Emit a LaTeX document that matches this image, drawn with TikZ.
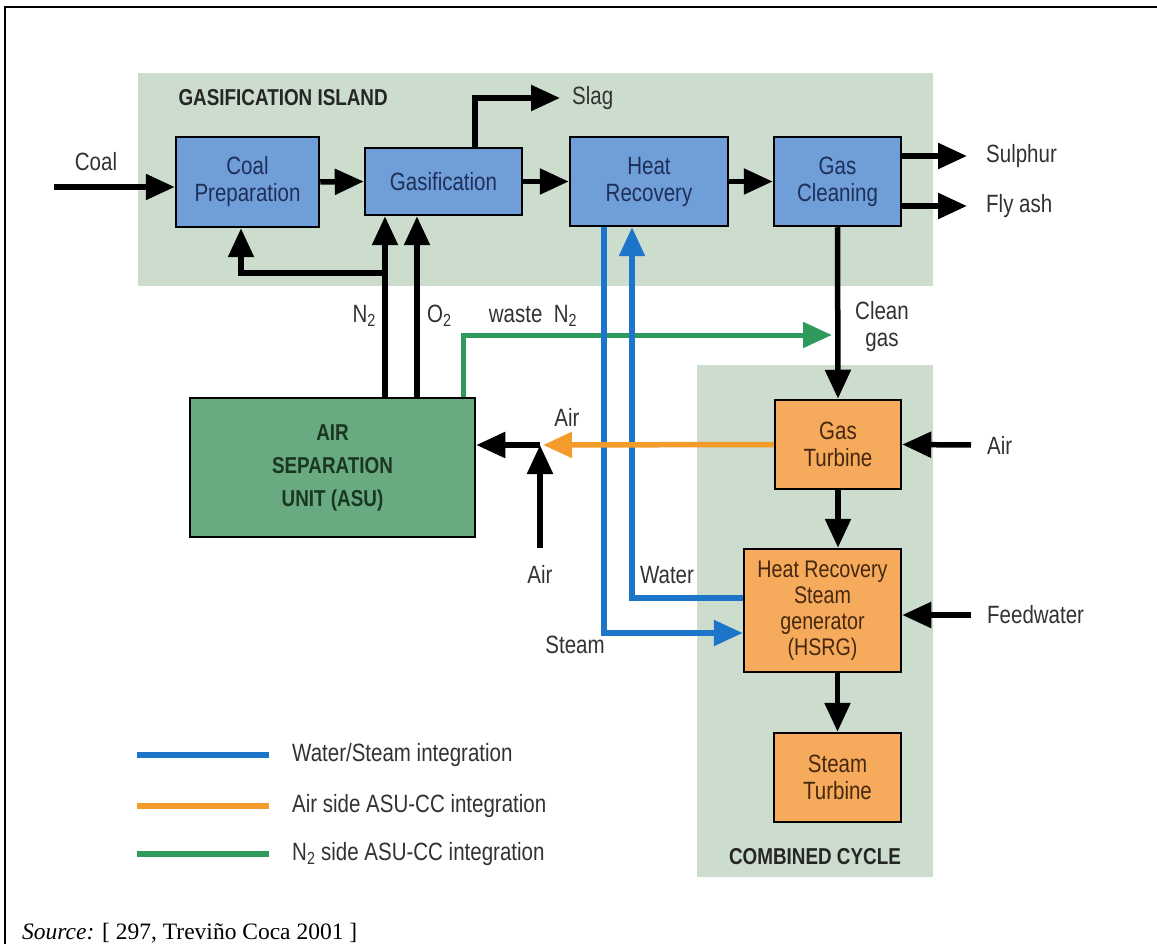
\documentclass[tikz,border=0pt]{standalone}
\usepackage{fontspec}
\setmainfont{Liberation Sans}[FakeStretch=0.82]
\newfontfamily\srcfont{Liberation Serif}
\usepackage{tikz}
\usetikzlibrary{
arrows.meta,
positioning,
calc
}
\definecolor{islandgreen}{RGB}{204,220,205}
\definecolor{unitblue}{RGB}{112,158,216}
\definecolor{unitorange}{RGB}{246,170,92}
\definecolor{unitgreen}{RGB}{106,170,128}
\definecolor{flowblue}{RGB}{28,117,200}
\definecolor{floworange}{RGB}{243,156,44}
\definecolor{flowgreen}{RGB}{46,155,92}
\definecolor{labelgray}{RGB}{50,50,50}
\definecolor{navytext}{RGB}{30,48,90}
\definecolor{browntext}{RGB}{70,40,15}
\definecolor{darkgreentext}{RGB}{25,55,35}
\tikzset{
  unitbox/.style={draw=black, line width=2.5pt, align=center, inner sep=0pt,
    font=\fontsize{25}{27}\selectfont},
  bluebox/.style={unitbox, fill=unitblue, text=navytext},
  orangebox/.style={unitbox, fill=unitorange, text=browntext},
  asubox/.style={unitbox, fill=unitgreen, text=darkgreentext, font=\bfseries\fontsize{23}{33}\selectfont},
  heading/.style={font=\bfseries\fontsize{23}{24}\selectfont, text=black!85},
  lbl/.style={font=\fontsize{25}{27}\selectfont, text=labelgray, inner sep=0pt, align=center},
  flow/.style={line width=5.5pt, -{Triangle[length=29pt,width=25pt]}},
  blueflow/.style={flow, draw=flowblue},
  orangeflow/.style={flow, draw=floworange},
  greenflow/.style={flow, draw=flowgreen, line width=5pt},
  keyline/.style={line width=6pt}
}
\begin{document}
\begin{tikzpicture}[x=1pt,y=-1pt]
  \useasboundingbox (0,0) rectangle (1157,944);
  % frame
  \draw[line width=2pt] (5,944) -- (5,7) -- (1157,7);
  % island backgrounds
  \fill[islandgreen] (138,73) rectangle (933,286);
  \fill[islandgreen] (697,365) rectangle (933,877);
  \node[heading, anchor=west] (gasisl) at (175,98) {GASIFICATION ISLAND};
  \node[heading] (cctitle) at (815,857) {COMBINED CYCLE};
  % process units
  \node[bluebox, minimum width=143, minimum height=90] (coalprep) at (247.5,182) {Coal\\Preparation};
  \node[bluebox, minimum width=157, minimum height=67] (gasif) at (443.5,181.5) {Gasification};
  \node[bluebox, minimum width=158, minimum height=89] (heatrec) at (649,181.5) {Heat\\Recovery};
  \node[bluebox, minimum width=127, minimum height=89] (gasclean) at (837.5,181.5) {Gas\\Cleaning};
  \node[asubox, minimum width=285, minimum height=139] (asu) at (332.5,467.5) {AIR\\SEPARATION\\UNIT (ASU)};
  \node[orangebox, minimum width=126, minimum height=89] (gasturb) at (838,444.5) {Gas\\Turbine};
  \node[orangebox, minimum width=157, minimum height=123, font=\fontsize{24}{26}\selectfont] (hrsg) at (822.5,610.5) {Heat Recovery\\Steam\\generator\\(HSRG)};
  \node[orangebox, minimum width=127, minimum height=89] (steamturb) at (837.5,777.5) {Steam\\Turbine};
  % free ends
  \coordinate (coalin) at (54,187);
  \coordinate (slagout) at (560,98);
  \coordinate (sulphout) at (967,156);
  \coordinate (ashout) at (967,206);
  \coordinate (wasteend) at (832,335);
  \coordinate (airgt) at (971,445);
  \coordinate (feedin) at (971,615);
  \coordinate (airjoin) at (540,445);
  \coordinate (airin) at (540,548);
  \coordinate (nsplit) at (385,273);
  % integration lines
  \draw[greenflow] ($(asu.north)+(130.5,0)$) |- (wasteend);
  \draw[blueflow] ($(heatrec.south)+(-45,0)$) |- ($(hrsg.west)+(0,22.5)$);
  \draw[blueflow] ($(hrsg.west)+(0,-12.5)$) -| ($(heatrec.south)+(-17,0)$);
  \draw[orangeflow] (gasturb.west) -- ($(airjoin)+(3,0)$);
  % main flows
  \draw[flow] (coalin) -- (coalin -| coalprep.west);
  \draw[flow] (coalprep.east) -- (gasif.west);
  \draw[flow] (gasif.east) -- (heatrec.west);
  \draw[flow] (heatrec.east) -- (gasclean.west);
  \draw[flow] ($(gasif.north)+(31.5,0)$) |- (slagout);
  \draw[flow] (sulphout -| gasclean.east) -- (sulphout);
  \draw[flow] (ashout -| gasclean.east) -- (ashout);
  \draw[flow] (asu.north -| nsplit) -- (gasif.south -| nsplit);
  \draw[flow] ($(asu.north)+(84.5,0)$) -- ($(gasif.south)+(-26.5,0)$);
  \draw[flow] (nsplit) -| ($(coalprep.south)+(-6.5,0)$);
  \draw[flow] (gasclean.south) -- (gasturb.north);
  \draw[flow] (airgt) -- (gasturb.east);
  \draw[flow] (gasturb.south) -- (gasturb.south |- hrsg.north);
  \draw[flow] (steamturb.north |- hrsg.south) -- (steamturb.north);
  \draw[flow] (feedin) -- (feedin -| hrsg.east);
  \draw[flow] (airjoin) -- (asu.east |- airjoin);
  \draw[flow] (airin) -- (airjoin);
  % stream labels
  \node[lbl] (coallbl) at (96,162) {Coal};
  \node[lbl, anchor=west] (slaglbl) at (572,98) {Slag};
  \node[lbl, anchor=west] (sulphlbl) at (986,156) {Sulphur};
  \node[lbl, anchor=west] (ashlbl) at (986,206) {Fly ash};
  \node[lbl, anchor=east] (nlbl) at (376,316) {N\textsubscript{2}};
  \node[lbl, anchor=west] (olbl) at (427,316) {O\textsubscript{2}};
  \node[lbl] (wastelbl) at (533,316) {waste\ \ N\textsubscript{2}};
  \node[lbl] (cleanlbl) at (882,327) {Clean\\gas};
  \node[lbl] (airtoplbl) at (567,417) {Air};
  \node[lbl] (airbotlbl) at (540,574) {Air};
  \node[lbl, anchor=west] (airgtlbl) at (987,445) {Air};
  \node[lbl, anchor=west] (feedlbl) at (987,615) {Feedwater};
  \node[lbl] (waterlbl) at (667,575) {Water};
  \node[lbl] (steamlbl) at (575,645) {Steam};
  % legend
  \draw[keyline, flowblue] (137,755) -- (269,755);
  \draw[keyline, floworange] (137,806) -- (269,806);
  \draw[keyline, flowgreen] (137,854) -- (269,854);
  \node[lbl, anchor=west] (keyblue) at (292,755) {Water/Steam integration};
  \node[lbl, anchor=west] (keyorange) at (292,806) {Air side ASU-CC integration};
  \node[lbl, anchor=west] (keygreen) at (292,854) {N\textsubscript{2} side ASU-CC integration};
  % source
  \node[anchor=base west, inner sep=0pt, font=\srcfont\fontsize{23.5}{26}\selectfont] (src) at (22,939) {\textit{Source:} [ 297, Treviño Coca 2001 ]};
\end{tikzpicture}
\end{document}
